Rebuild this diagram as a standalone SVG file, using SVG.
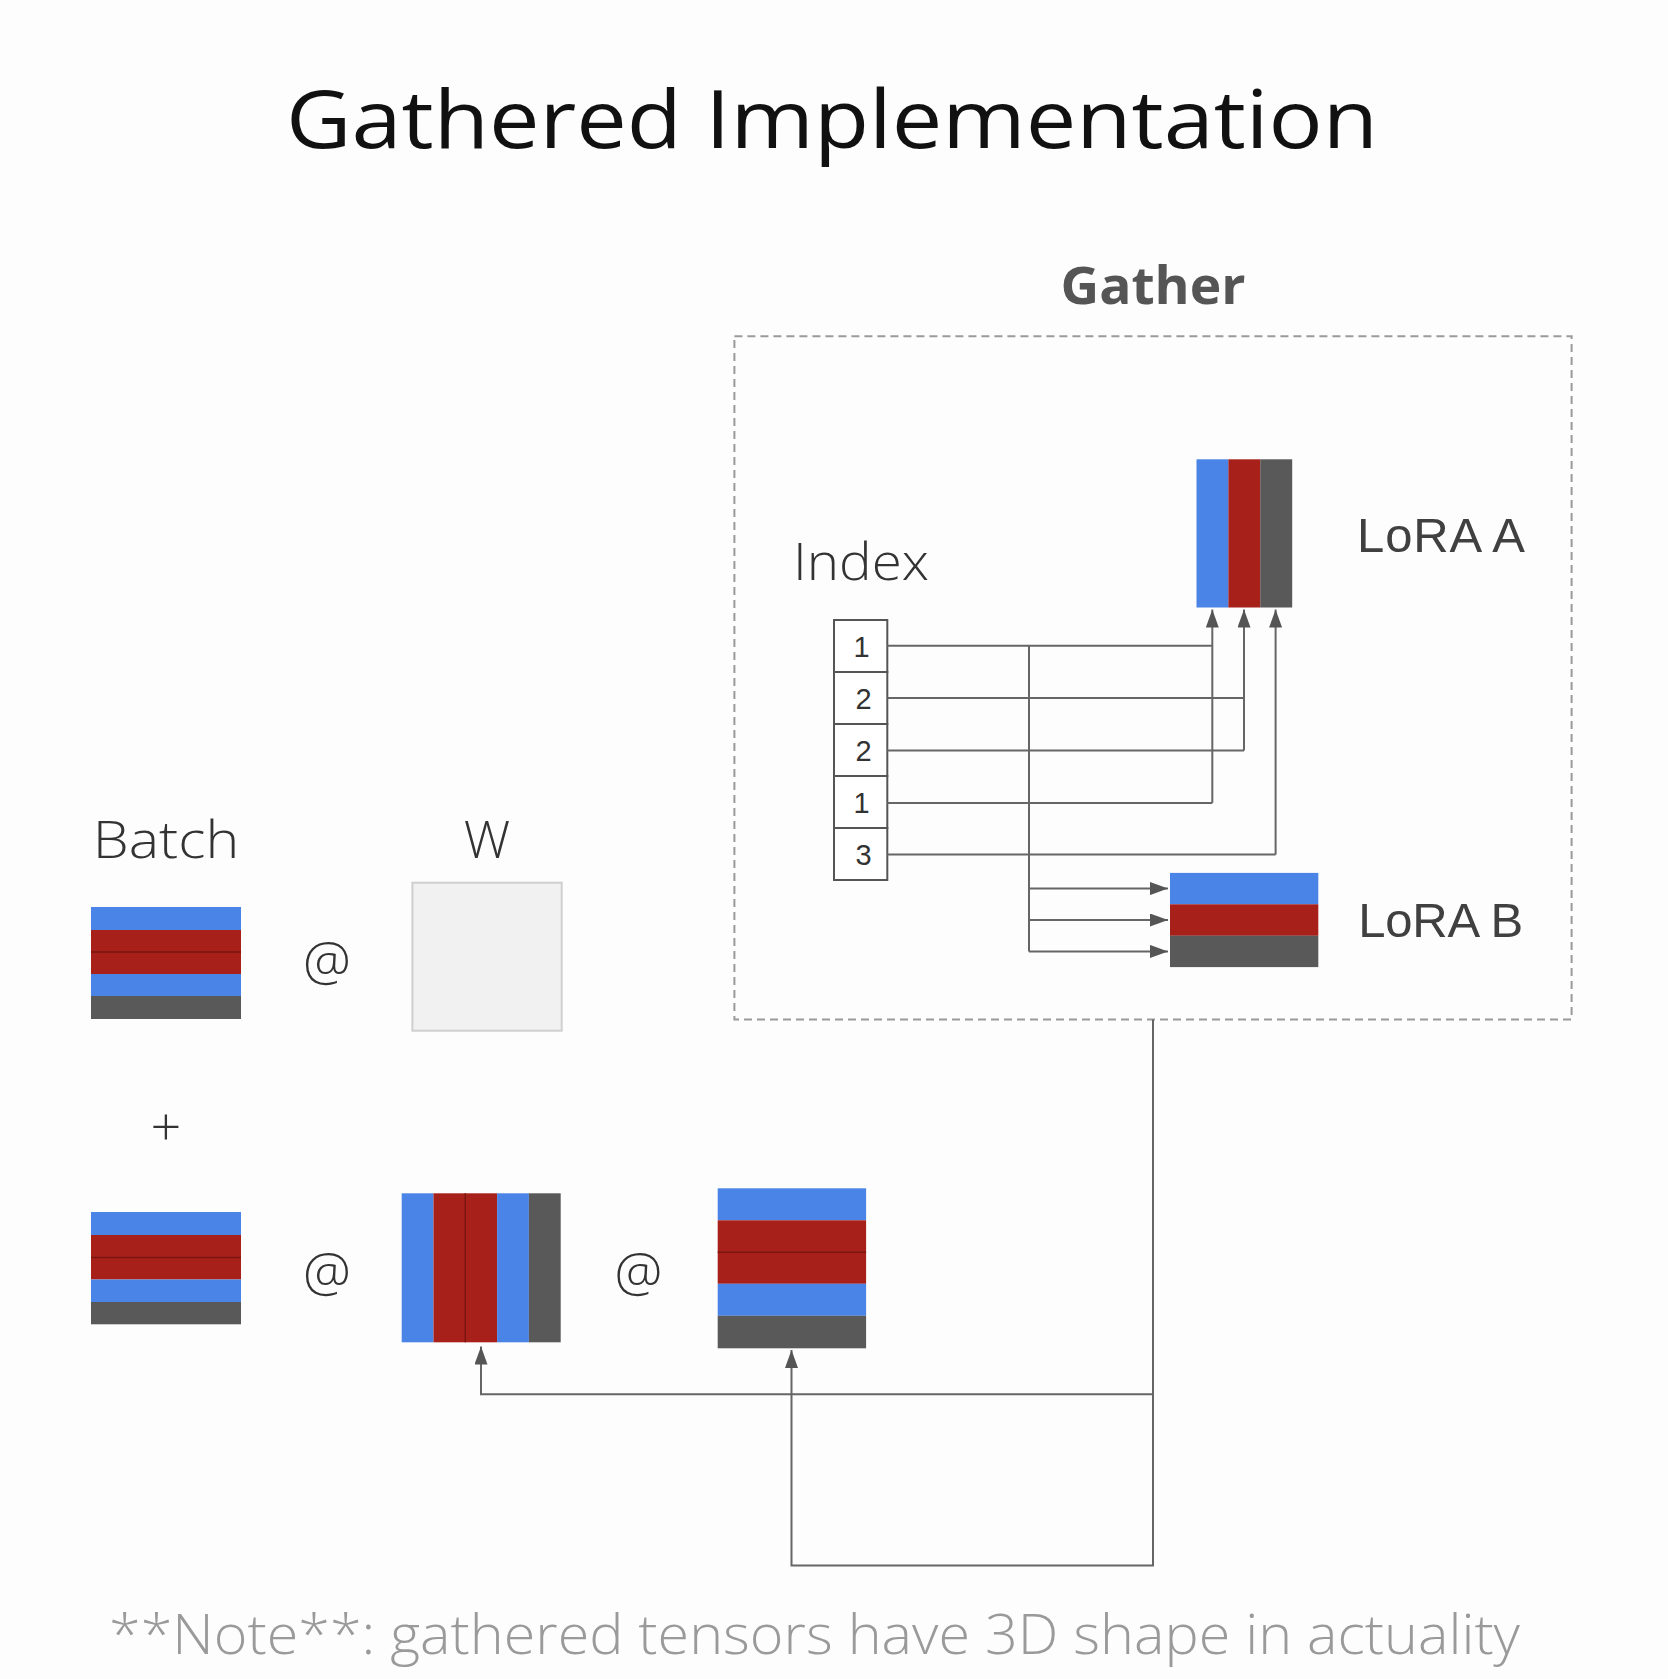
<svg xmlns="http://www.w3.org/2000/svg" width="1668" height="1679" viewBox="0 0 1668 1679">
<style>
.bg{fill:#fdfdfd}
.blue{fill:#4a84e6}
.red{fill:#a8201a}
.gray{fill:#595959}
.div{stroke:#7a1510;stroke-width:1.5;fill:none}
.conn{stroke:#666;stroke-width:2;fill:none}
.poppins{font-family:"Open Sans","Liberation Sans",sans-serif}
.label{font-family:"Open Sans","Liberation Sans",sans-serif;font-weight:300;fill:#333}
.gothic{font-family:"Liberation Sans",Arial,sans-serif;fill:#404040}
.cell{fill:#fff;stroke:#555;stroke-width:2}
.digit{font-family:"Liberation Sans",Arial,sans-serif;font-size:29px;fill:#333;text-anchor:middle}
</style>
<defs>
<marker id="arr" markerUnits="userSpaceOnUse" markerWidth="18" markerHeight="13" viewBox="0 0 18 13" refX="18" refY="6.5" orient="auto">
<path d="M0,0 L18,6.5 L0,13 Z" fill="#555"/>
</marker>
</defs>
<rect class="bg" x="0" y="0" width="1668" height="1679"/>

<g id="title">
<text class="poppins" x="832" y="147.5" font-size="81" fill="#111" text-anchor="middle" textLength="1092" lengthAdjust="spacingAndGlyphs">Gathered Implementation</text>
</g>

<g id="gather-box">
<rect x="734.4" y="336.2" width="837.2" height="683.2" fill="none" stroke="#9a9a9a" stroke-width="2" stroke-dasharray="8 5"/>
<text class="poppins" x="1153" y="303.5" font-size="52" font-weight="700" fill="#555" text-anchor="middle" textLength="185" lengthAdjust="spacingAndGlyphs">Gather</text>
</g>

<g id="index">
<text class="label" x="793" y="580" font-size="51" textLength="136" lengthAdjust="spacingAndGlyphs">Index</text>
<rect class="cell" x="834" y="620" width="53.3" height="52"/>
<rect class="cell" x="834" y="672" width="53.3" height="52"/>
<rect class="cell" x="834" y="724" width="53.3" height="52"/>
<rect class="cell" x="834" y="776" width="53.3" height="52"/>
<rect class="cell" x="834" y="828" width="53.3" height="52"/>
<text class="digit" x="861.5" y="656.5">1</text>
<text class="digit" x="863.5" y="708.5">2</text>
<text class="digit" x="863.5" y="760.5">2</text>
<text class="digit" x="861.5" y="812.5">1</text>
<text class="digit" x="863.5" y="864.5">3</text>
</g>

<g id="lora-a">
<rect class="blue" x="1196.5" y="459.3" width="32" height="148.2"/>
<rect class="red" x="1228.4" y="459.3" width="32" height="148.2"/>
<rect class="gray" x="1260.3" y="459.3" width="31.9" height="148.2"/>
<text class="gothic" x="1357" y="551.7" font-size="49" textLength="168">LoRA A</text>
</g>

<g id="lora-b">
<rect class="blue" x="1170" y="872.9" width="148.3" height="31.5"/>
<rect class="red" x="1170" y="904.3" width="148.3" height="31.5"/>
<rect class="gray" x="1170" y="935.7" width="148.3" height="31.4"/>
<text class="gothic" x="1358.3" y="937" font-size="49" textLength="165">LoRA B</text>
</g>

<g id="batch-label">
<text class="label" x="92.8" y="857.7" font-size="52" textLength="146.5" lengthAdjust="spacingAndGlyphs">Batch</text>
</g>
<g id="w-label">
<text class="label" x="487" y="857.7" font-size="52" text-anchor="middle">W</text>
</g>

<g id="batch1">
<rect class="blue" x="91" y="907" width="150" height="23"/>
<rect class="red" x="91" y="930" width="150" height="44"/>
<rect class="blue" x="91" y="974" width="150" height="22"/>
<rect class="gray" x="91" y="996" width="150" height="23"/>
<line class="div" x1="91" y1="952" x2="241" y2="952"/>
</g>

<g id="at1"><text class="label" x="327" y="980" font-size="54" text-anchor="middle">@</text></g>

<g id="w">
<rect x="412.4" y="882.7" width="149.3" height="148" fill="#f1f1f1" stroke="#cfcfcf" stroke-width="2"/>
</g>

<g id="plus"><text class="label" x="166" y="1146" font-size="54" text-anchor="middle">+</text></g>

<g id="batch2">
<rect class="blue" x="91" y="1212" width="150" height="23"/>
<rect class="red" x="91" y="1235" width="150" height="44.5"/>
<rect class="blue" x="91" y="1279.5" width="150" height="22.5"/>
<rect class="gray" x="91" y="1302" width="150" height="22.3"/>
<line class="div" x1="91" y1="1257.5" x2="241" y2="1257.5"/>
</g>

<g id="at2"><text class="label" x="327" y="1291" font-size="54" text-anchor="middle">@</text></g>

<g id="gathered-a">
<rect class="blue" x="401.7" y="1193.3" width="31.8" height="149"/>
<rect class="red" x="433.5" y="1193.3" width="63.6" height="149"/>
<rect class="blue" x="497.1" y="1193.3" width="31.8" height="149"/>
<rect class="gray" x="528.9" y="1193.3" width="31.8" height="149"/>
<line class="div" x1="465.3" y1="1193.3" x2="465.3" y2="1342.3"/>
</g>

<g id="at3"><text class="label" x="638.5" y="1291" font-size="54" text-anchor="middle">@</text></g>

<g id="gathered-b">
<rect class="blue" x="717.7" y="1188.3" width="148.4" height="32"/>
<rect class="red" x="717.7" y="1220.3" width="148.4" height="63.5"/>
<rect class="blue" x="717.7" y="1283.8" width="148.4" height="32"/>
<rect class="gray" x="717.7" y="1315.8" width="148.4" height="32.5"/>
<line class="div" x1="717.7" y1="1252.3" x2="866.1" y2="1252.3"/>
</g>

<g id="connectors">
<path class="conn" d="M887.3,645.7 H1212.3"/>
<path class="conn" d="M887.3,698 H1244"/>
<path class="conn" d="M887.3,750.4 H1244"/>
<path class="conn" d="M887.3,802.9 H1212.3"/>
<path class="conn" d="M887.3,854.6 H1275.6"/>
<path class="conn" d="M1212.3,802.9 V609.5" marker-end="url(#arr)"/>
<path class="conn" d="M1244,750.4 V609.5" marker-end="url(#arr)"/>
<path class="conn" d="M1275.6,854.6 V609.5" marker-end="url(#arr)"/>
<path class="conn" d="M1029,645.7 V951.4"/>
<path class="conn" d="M1029,888.6 H1168" marker-end="url(#arr)"/>
<path class="conn" d="M1029,920 H1168" marker-end="url(#arr)"/>
<path class="conn" d="M1029,951.4 H1168" marker-end="url(#arr)"/>
<path class="conn" d="M1153,1019.4 V1565.4 H791.5 V1350" marker-end="url(#arr)"/>
<path class="conn" d="M1153,1394.3 H481 V1346.5" marker-end="url(#arr)"/>
</g>

<g id="note">
<text class="label" x="109" y="1654" font-size="56" style="fill:#9a9a9a" textLength="1411" lengthAdjust="spacingAndGlyphs">**Note**: gathered tensors have 3D shape in actuality</text>
</g>
</svg>
